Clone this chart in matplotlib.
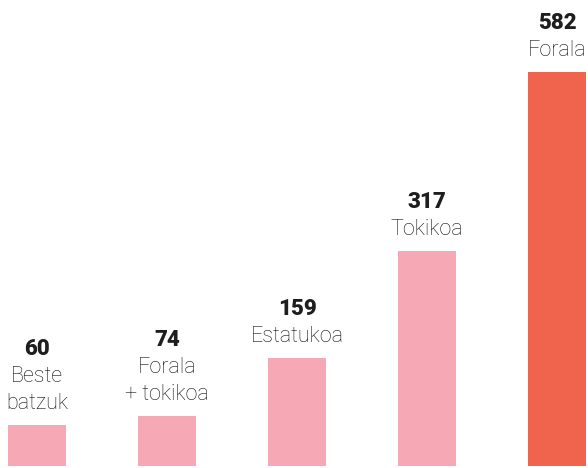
import matplotlib
matplotlib.use("Agg")
import matplotlib.pyplot as plt

values = [60, 74, 159, 317, 582]
names = ["Beste\nbatzuk", "Forala\n+ tokikoa", "Estatukoa", "Tokikoa", "Forala"]
colors = ["#F7A8B5", "#F7A8B5", "#F7A8B5", "#F7A8B5", "#F0634D"]

fig = plt.figure(figsize=(5.88, 4.68), dpi=100)
ax = fig.add_axes([0, 0, 1, 1])
x = list(range(len(values)))
ax.bar(x, values, width=0.446, color=colors)
ax.set_xlim(-37 / 130, 4 + 31 / 130)
ax.set_ylim(-2.95, 688.3)
ax.axis("off")

px = 72 / 100  # points per pixel
for xi, v, name in zip(x, values, names):
    lines = name.split("\n")[::-1]
    for k, line in enumerate(lines):
        ax.annotate(line, (xi, v), xytext=(0, (16 + 27 * k) * px), textcoords="offset points",
                    ha="center", va="baseline", fontsize=15.5, color="#111111",
                    family="Roboto", fontweight="light")
    ax.annotate(str(v), (xi, v), xytext=(0, (17 + 27 * (len(lines) - 1) + 26) * px),
                textcoords="offset points", ha="center", va="baseline", fontsize=16,
                fontweight="heavy", color="#1e1e1e", family="Roboto")

fig.savefig("out.png", dpi=100)
